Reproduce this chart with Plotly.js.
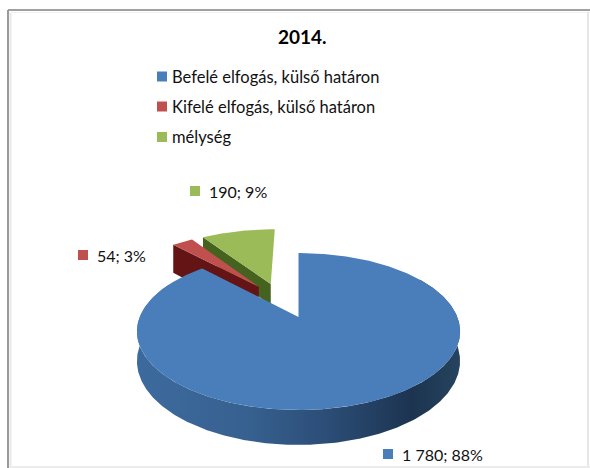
<!DOCTYPE html>
<html>
<head>
<meta charset="utf-8">
<script src="https://cdn.plot.ly/plotly-3.0.1.min.js"></script>
<style>html,body{margin:0;padding:0;background:#fff}#c{width:590px;height:468px}</style>
</head>
<body>
<div id="c"></div>
<script>
var categories = ["Befelé elfogás, külső határon", "Kifelé elfogás, külső határon", "mélység"];
var values = [1780, 54, 190];
var valueLabels = ["1 780", "54", "190"];
var percents = ["88%", "3%", "9%"];
var chartTitle = "2014.";

var topColors = ["#4a7ebb", "#c0504d", "#9bbb59"];
var wallColors = ["#2f5380", "#641414", "#45621f"];
var legendY = [76.5, 106.5, 137];
var labelPos = [[388, 454, 400], [83, 255, 95], [195, 191, 207]];
var explodeU = [0, 0.43, 0.473];
var explodeV = [0, -0.27, -0.19];
var depths = [28.5, 34, 23];

var FONT = "Lato, 'Open Sans', sans-serif";
var X0 = 298.5, Y0 = 317, A = 75.8, B = 158.8, K = 0.1847;

function project(u, v, h) {
  var w = 1 + K * u;
  return [X0 + B * v / w, Y0 - A * u / w + h / w];
}
var total = values.reduce(function (a, b) { return a + b; }, 0);
var angles = [0];
values.forEach(function (v, i) { angles.push(angles[i] + v / total * 2 * Math.PI); });

function rim(i, a0, a1, h) {
  var pts = [], n = Math.max(2, Math.ceil(Math.abs(a1 - a0) / 0.01));
  for (var k = 0; k <= n; k++) {
    var a = a0 + (a1 - a0) * k / n;
    pts.push(project(Math.cos(a) + explodeU[i], Math.sin(a) + explodeV[i], h * depths[i]));
  }
  return pts;
}
function apex(i, h) { return project(explodeU[i], explodeV[i], h * depths[i]); }
function poly(pts, color, name, extra) {
  var t = {
    type: "scatter", mode: "lines", x: pts.map(function (p) { return p[0]; }),
    y: pts.map(function (p) { return p[1]; }), fill: "toself", fillcolor: color,
    line: { width: 0, color: color }, hoverinfo: "skip", showlegend: false, name: name
  };
  if (extra) for (var k in extra) t[k] = extra[k];
  return t;
}
function topFace(i) {
  var r = rim(i, angles[i], angles[i + 1], 0);
  return poly([apex(i, 0)].concat(r).concat([apex(i, 0)]), topColors[i], categories[i]);
}
function cutFace(i) {
  var a = angles[i];
  var s0 = project(Math.cos(a) + explodeU[i], Math.sin(a) + explodeV[i], 0);
  var s1 = project(Math.cos(a) + explodeU[i], Math.sin(a) + explodeV[i], depths[i]);
  return poly([s0, apex(i, 0), apex(i, 1), s1, s0], wallColors[i], categories[i]);
}
var blueWallTop = rim(0, 1.0, 5.2, 0);
var blueWallBottom = rim(0, 1.0, 5.2, 1).reverse();
var blueWall = poly(blueWallTop.concat(blueWallBottom).concat([blueWallTop[0]]), wallColors[0], categories[0], {
  fillgradient: { type: "horizontal", colorscale: [[0, "#3d6a9e"], [0.35, "#36608f"], [0.6, "#2b4c75"], [0.85, "#1c3450"], [1, "#26445f"]] }
});

var traces = [cutFace(2), topFace(2), cutFace(1), topFace(1), blueWall, topFace(0)];

traces.push({
  type: "scatter", mode: "markers", x: categories.map(function () { return 162; }), y: legendY,
  marker: { symbol: "square", size: 10, color: topColors, line: { width: 0 } },
  hoverinfo: "skip", showlegend: false
});
traces.push({
  type: "scatter", mode: "markers", x: labelPos.map(function (p) { return p[0]; }), y: labelPos.map(function (p) { return p[1]; }),
  marker: { symbol: "square", size: 10, color: topColors, line: { width: 0 } },
  hoverinfo: "skip", showlegend: false
});

var annotations = categories.map(function (c, i) {
  return { x: 170, y: legendY[i], text: c, xanchor: "left", yanchor: "middle", showarrow: false, xref: "x", yref: "y",
    font: { family: FONT, size: 16.5, color: "#111" } };
}).concat(values.map(function (v, i) {
  return { x: labelPos[i][2], y: labelPos[i][1], text: valueLabels[i] + "; " + percents[i], xanchor: "left", yanchor: "middle",
    showarrow: false, xref: "x", yref: "y", font: { family: FONT, size: 16, color: "#111" } };
}));
annotations.push({ x: 302, y: 36, text: "<b>" + chartTitle + "</b>", xanchor: "center", yanchor: "middle", showarrow: false,
  xref: "x", yref: "y", font: { family: FONT, size: 19, color: "#000" } });

function seg(x0, y0, x1, y1, color, w) {
  return { type: "line", xref: "x", yref: "y", x0: x0, y0: y0, x1: x1, y1: y1, line: { color: color, width: w }, layer: "below" };
}
var layout = {
  width: 590, height: 468, margin: { l: 0, r: 0, t: 0, b: 0 },
  paper_bgcolor: "#fff", plot_bgcolor: "#fff", showlegend: false,
  xaxis: { range: [0, 590], visible: false, fixedrange: true },
  yaxis: { range: [468, 0], visible: false, fixedrange: true },
  annotations: annotations,
  shapes: [
    seg(8, 10, 590, 10, "#a0a0a0", 2),
    seg(8, 10, 8, 468, "#9a9a9a", 2),
    seg(10.5, 12, 10.5, 468, "#e8e8e8", 2),
    seg(10, 12.5, 590, 12.5, "#f2f2f2", 1),
    seg(588, 12, 588, 468, "#e6e6e6", 2),
    seg(10, 467, 590, 467, "#ececec", 2)
  ]
};
Plotly.newPlot("c", traces, layout, { displayModeBar: false, staticPlot: true });
</script>
</body>
</html>
